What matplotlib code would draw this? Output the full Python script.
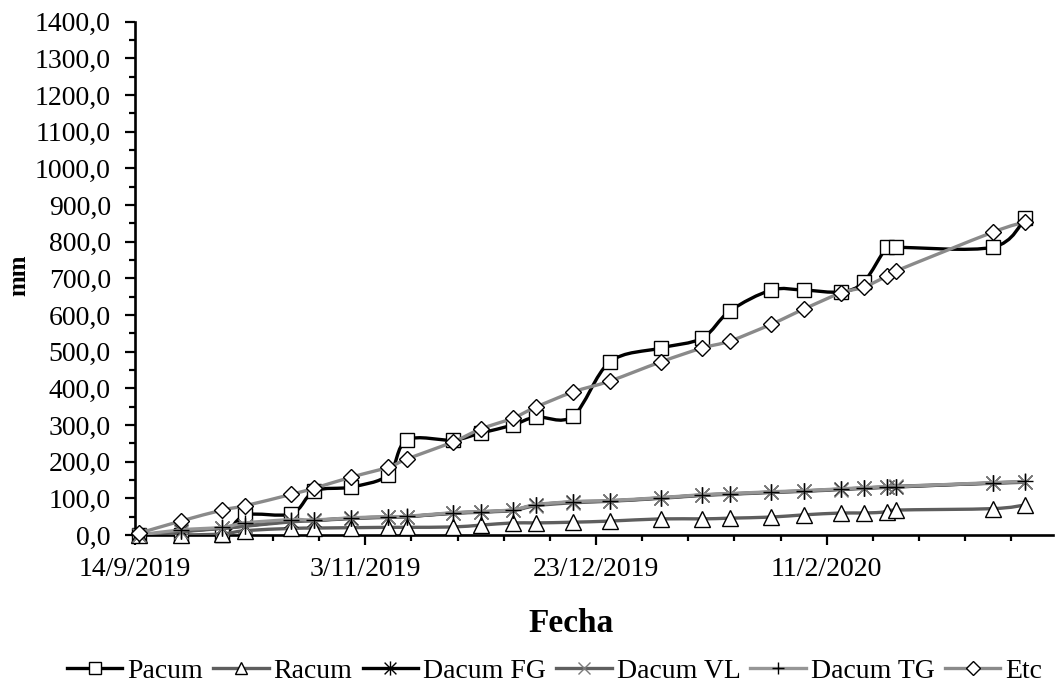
import numpy as np
import pandas as pd
import matplotlib
matplotlib.use('Agg')
import matplotlib.pyplot as plt
import matplotlib.dates as mdates
from matplotlib.path import Path
from matplotlib.patches import PathPatch
from matplotlib.lines import Line2D
from matplotlib.ticker import FixedLocator, FuncFormatter, MultipleLocator

plt.rcParams['font.family'] = ['Liberation Serif', 'DejaVu Serif']

# datos
fechas = ['15/9/2019', '24/9/2019', '3/10/2019', '8/10/2019', '18/10/2019', '23/10/2019',
          '31/10/2019', '8/11/2019', '12/11/2019', '22/11/2019', '28/11/2019', '5/12/2019',
          '10/12/2019', '18/12/2019', '26/12/2019', '6/1/2020', '15/1/2020', '21/1/2020',
          '30/1/2020', '6/2/2020', '14/2/2020', '19/2/2020', '24/2/2020', '26/2/2020',
          '18/3/2020', '25/3/2020']
pacum = [0, 0, 0, 54, 58, 120, 131, 164, 259, 259, 278, 300, 322, 324, 472, 510, 537, 611,
         668, 668, 663, 690, 785, 785, 785, 864]
racum = [0, 0, 3, 12, 18, 19, 20, 21, 21, 22, 27, 33, 33, 35, 38, 44, 44, 46, 49, 55, 60, 60,
         63, 68, 72, 82]
dacum_fg = [0, 10, 19, 25, 38, 40, 46, 49, 50, 60, 63, 68, 82, 90, 93, 101, 109, 112, 117, 120,
            125, 128, 131, 131, 142, 145]
dacum_vl = [0, 9, 18, 24, 36, 39, 45, 48, 50, 59, 62, 67, 80, 88, 92, 100, 108, 111, 116, 119,
            124, 127, 130, 133, 141, 144]
dacum_tg = [0, 14, 21, 33, 42, 41, 47, 50, 51, 61, 64, 69, 83, 91, 94, 102, 110, 113, 118, 121,
            126, 129, 132, 132, 143, 146]
etc = [5, 38, 68, 80, 111, 128, 158, 185, 207, 254, 289, 319, 349, 390, 420, 472, 510, 529, 575,
       616, 660, 676, 706, 720, 826, 854]
nombres = ['Pacum', 'Racum', 'Dacum FG', 'Dacum VL', 'Dacum TG', 'Etc']

x = mdates.date2num(pd.to_datetime(fechas, format='%d/%m/%Y'))
x_ini = mdates.date2num(pd.Timestamp(2019, 9, 14))
x_fin = mdates.date2num(pd.Timestamp(2020, 3, 31))

# marcador asterisco tipo Excel
asterisco = Path([(-1, -1), (1, 1), (-1, 1), (1, -1), (0, -1.2), (0, 1.2)],
                 [Path.MOVETO, Path.LINETO, Path.MOVETO, Path.LINETO, Path.MOVETO, Path.LINETO])

estilos = [
    # color linea, marcador, tamano, relleno, borde
    ('black', 's', 9.5, 'white', 'black'),
    ('#5e5e5e', '^', 11, 'white', 'black'),
    ('black', asterisco, 12, 'none', 'black'),
    ('#5f5f5f', 'x', 9.5, 'none', '#7a7a7a'),
    ('#969696', '+', 11, 'none', 'black'),
    ('#8a8a8a', 'D', 7.8, 'white', 'black'),
]
series = [pacum, racum, dacum_fg, dacum_vl, dacum_tg, etc]


def curva_suave(xs, ys):
    # linea suavizada estilo Excel (bezier)
    p = np.column_stack([xs, ys]).astype(float)
    n = len(p)
    verts = [p[0]]
    codes = [Path.MOVETO]
    for i in range(n - 1):
        p0 = p[i - 1] if i > 0 else p[i]
        p1 = p[i]
        p2 = p[i + 1]
        p3 = p[i + 2] if i + 2 < n else p[i + 1]
        verts += [p1 + (p2 - p0) / 6, p2 - (p3 - p1) / 6, p2]
        codes += [Path.CURVE4] * 3
    return Path(verts, codes)


fig = plt.figure(figsize=(10.55, 6.84), dpi=100)
ax = fig.add_axes([0.1275, 0.2178, 0.8705, 0.7505])

handles = []
for k, (vals, (col, mk, ms, mfc, mec)) in enumerate(zip(series, estilos)):
    ax.add_patch(PathPatch(curva_suave(x, vals), fill=False, edgecolor=col, lw=2.4,
                           zorder=2 + 2 * k, capstyle='round'))
    ax.plot(x, vals, ls='none', marker=mk, ms=ms, mfc=mfc, mec=mec, mew=1.0,
            zorder=3 + 2 * k, clip_on=False)
    handles.append(Line2D([], [], color=col, lw=2.4, marker=mk, ms=ms, mfc=mfc, mec=mec,
                          mew=1.0))

ax.set_xlim(x_ini, x_fin)
ax.set_ylim(0, 1400)

ax.xaxis.set_major_locator(FixedLocator(np.arange(x_ini, x_fin, 50)))
ax.xaxis.set_minor_locator(FixedLocator(np.arange(x_ini, x_fin, 10)))
ax.xaxis.set_major_formatter(FuncFormatter(
    lambda v, p: '{0.day}/{0.month}/{0.year}'.format(mdates.num2date(v))))
ax.yaxis.set_major_locator(MultipleLocator(100))
ax.yaxis.set_minor_locator(MultipleLocator(50))
ax.yaxis.set_major_formatter(FuncFormatter(lambda v, p: f'{v:.1f}'.replace('.', ',')))

for s in ['top', 'right']:
    ax.spines[s].set_visible(False)
for s in ['left', 'bottom']:
    ax.spines[s].set_linewidth(1.9)
    ax.spines[s].set_zorder(1)

ax.tick_params(axis='both', which='major', labelsize=20, length=7, width=1.6, direction='out')
ax.tick_params(axis='both', which='minor', length=4.5, width=1.6, direction='out')
ax.tick_params(axis='y', which='major', pad=10)
ax.tick_params(axis='x', which='major', pad=9)

fig.text(571 / 1055, 1 - 623 / 684, 'Fecha', ha='center', va='center',
         fontsize=24, fontweight='bold')
fig.text(19 / 1055, 1 - 275 / 684, 'mm', ha='center', va='center', rotation=90,
         fontsize=18, fontweight='bold')

fig.legend(handles, nombres, loc='center', bbox_to_anchor=(554.5 / 1055, 1 - 671 / 684),
           ncol=6, frameon=False, fontsize=20, handlelength=2.0, handletextpad=0.18,
           columnspacing=0.36, markerscale=0.85, borderpad=0, borderaxespad=0)

fig.savefig('out.png', dpi=100)
